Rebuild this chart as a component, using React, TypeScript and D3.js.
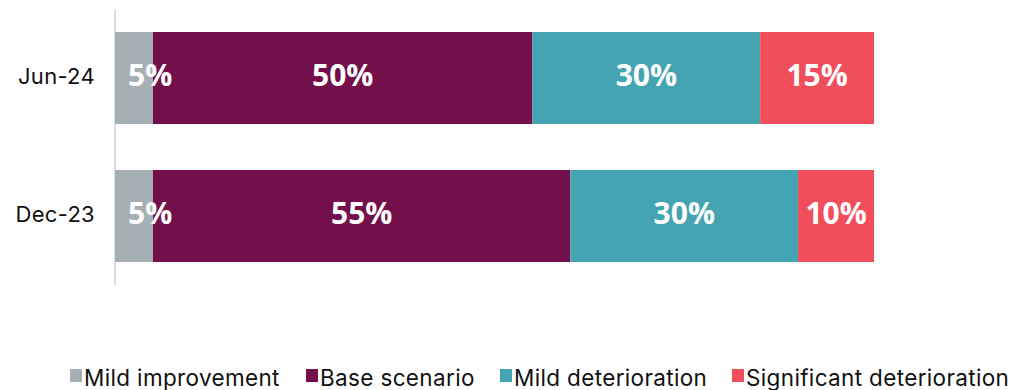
import React from "react";
import * as d3 from "d3";

const categories = ["Jun-24", "Dec-23"];
const seriesNames = ["Mild improvement", "Base scenario", "Mild deterioration", "Significant deterioration"];
const mildImprovement = [5, 5];
const baseScenario = [50, 55];
const mildDeterioration = [30, 30];
const significantDeterioration = [15, 10];
const colors = ["#A5B0B5", "#730F4A", "#45A4B2", "#F04E5B"];

const W = 1013;
const H = 390;
const left = 115;
const right = 874;

export default function App() {
  const seriesValues = [mildImprovement, baseScenario, mildDeterioration, significantDeterioration];
  const rows = categories.map((c, i) => {
    const r: any = { cat: c };
    seriesNames.forEach((s, j) => (r[s] = seriesValues[j][i]));
    return r;
  });
  const stack = d3.stack<any>().keys(seriesNames)(rows);
  const x = d3.scaleLinear().domain([0, 100]).range([left, right]);
  const y = d3.scaleBand().domain(categories).range([9, 285]).paddingInner(1 / 3).paddingOuter(1 / 6);
  const legendX = [70, 306, 500, 732];
  const font = "Inter, 'Open Sans', sans-serif";
  const valFont = "'Open Sans', Lato, sans-serif";
  const bw = y.bandwidth();
  return (
    <svg width={W} height={H} style={{ position: "absolute", left: 0, top: 0 }}>
      <line x1={left} x2={left} y1={9} y2={285} stroke="#D9DEE0" strokeWidth={2} />
      {stack.map((layer, j) =>
        layer.map((d, i) => {
          const x0 = x(d[0]);
          const x1 = x(d[1]);
          return <rect key={`r${j}-${i}`} x={x0} y={y(categories[i])!} width={x1 - x0} height={bw} fill={colors[j]} />;
        })
      )}
      {stack.map((layer, j) =>
        layer.map((d, i) => {
          const x0 = x(d[0]);
          const x1 = x(d[1]);
          const yy = y(categories[i])!;
          const small = x1 - x0 < 50;
          return (
            <text
              key={`t${j}-${i}`}
              x={small ? x0 + 13 : (x0 + x1) / 2}
              y={yy + bw / 2 + 8}
              textAnchor={small ? "start" : "middle"}
              fill="#fff"
              fontWeight={700}
              fontSize={30}
              fontFamily={valFont}
            >
              {d[1] - d[0]}%
            </text>
          );
        })
      )}
      {categories.map((c) => (
        <text key={c} x={95} y={y(c)! + bw / 2 + 6} textAnchor="end" fontSize={22} letterSpacing={0.3} fontFamily={font} fill="#111">
          {c}
        </text>
      ))}
      {seriesNames.map((s, j) => (
        <g key={s}>
          <rect x={legendX[j]} y={369} width={12} height={13} fill={colors[j]} />
          <text x={legendX[j] + 14} y={386} fontSize={22.5} letterSpacing={0.35} fontFamily={font} fill="#111">
            {s}
          </text>
        </g>
      ))}
    </svg>
  );
}
